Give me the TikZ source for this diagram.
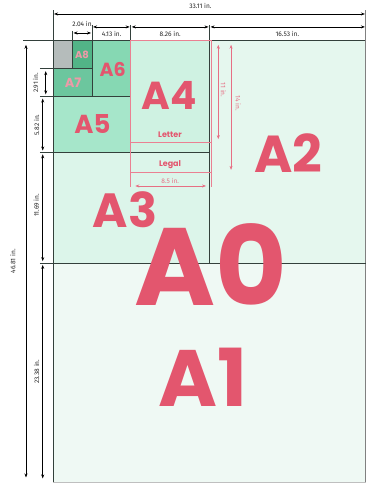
\documentclass[tikz,border=0pt]{standalone}
\usepackage{fontspec}
\usepackage{xcolor}
\usetikzlibrary{arrows.meta}
\newfontfamily\sizefont{Poppins}
\newfontfamily\dimfont{Fira Sans}
\definecolor{paperA1}{HTML}{EFF9F4}
\definecolor{paperA2}{HTML}{E5F7EE}
\definecolor{paperA3}{HTML}{DCF5EA}
\definecolor{paperA4}{HTML}{CFF2E2}
\definecolor{paperA5}{HTML}{A6E6CA}
\definecolor{paperA6}{HTML}{86D8B3}
\definecolor{paperA7}{HTML}{6CC69E}
\definecolor{paperA8}{HTML}{52B487}
\definecolor{paperrest}{HTML}{B5BCBB}
\definecolor{sizepink}{HTML}{E3566E}
\definecolor{gridline}{HTML}{33403B}

\begin{document}
\begin{tikzpicture}[x=9.45pt,y=9.45pt,
    grid/.style={draw=gridline,line width=0.9pt},
    dimline/.style={{Stealth[length=4pt,width=3pt]}-{Stealth[length=4pt,width=3pt]},line width=0.6pt,shorten <=1pt,shorten >=1pt},
    pinkdim/.style={dimline,draw=sizepink!85,{Stealth[length=4pt,width=3pt]}-{Stealth[length=4pt,width=3pt]}},
    letterbox/.style={draw=sizepink!75,line width=0.7pt},
    dimtext/.style={font=\dimfont\fontsize{6.6}{7}\selectfont,inner sep=0pt,text=black!85},
    sizelabel/.style={text=sizepink,inner sep=0pt,font=\sizefont\bfseries\fontsize{#1}{#1}\selectfont}]
    \useasboundingbox (-5.61,4.23) rectangle (33.23,-47.09);
    % sheets, biggest first
    \fill[paperA1] (0,0) rectangle (33.11,-46.81);
    \fill[paperA2] (16.56,0) rectangle (33.11,-23.6);
    \fill[paperA3] (0,-11.9) rectangle (16.56,-23.6);
    \fill[paperA4] (8.22,0) rectangle (16.56,-11.9);
    \fill[paperA5] (0,-6) rectangle (8.22,-11.9);
    \fill[paperA6] (4.13,0) rectangle (8.22,-6);
    \fill[paperA7] (0,-3.05) rectangle (4.13,-6);
    \fill[paperA8] (2.06,0) rectangle (4.13,-3.05);
    \fill[paperrest] (0,0) rectangle (2.06,-3.05);
    % cut lines
    \draw[grid] (-3.17,0) -- (33.11,0);
    \draw[grid] (0,3.17) -- (0,-46.81);
    \draw[grid,draw=gray] (33.11,3.17) -- (33.11,-46.81);
    \draw[grid,draw=gray!50] (0,-46.81) -- (33.11,-46.81);
    \draw[grid] (-1.38,-23.6) -- (33.11,-23.6);
    \draw[grid] (-1.38,-11.9) -- (16.56,-11.9);
    \draw[grid] (-1.38,-6) -- (8.22,-6);
    \draw[grid] (-1.38,-3.05) -- (4.13,-3.05);
    \draw[grid] (16.56,1.6) -- (16.56,-23.6);
    \draw[grid] (8.22,1.6) -- (8.22,-11.9);
    \draw[grid] (4.13,1.6) -- (4.13,-6);
    \draw[grid] (2.06,0.95) -- (2.06,-3.05);
    % letter and legal
    \draw[letterbox] (8.22,0) rectangle (16.72,-10.87);
    \draw[letterbox] (8.22,0) rectangle (16.72,-14.04);
    \draw[letterbox] (8.22,-14.04) -- (8.22,-15.6);
    \draw[letterbox] (16.72,-14.04) -- (16.72,-15.6);
    % widths
    \coordinate (w0) at (0,2.75);     \coordinate (w1) at (33.11,2.75);
    \coordinate (wa6a) at (4.13,1.38); \coordinate (wa6b) at (8.22,1.38);
    \coordinate (wa4a) at (8.22,1.38); \coordinate (wa4b) at (16.56,1.38);
    \coordinate (wa2a) at (16.56,1.38); \coordinate (wa2b) at (33.11,1.38);
    \coordinate (wa8a) at (2.06,0.74); \coordinate (wa8b) at (4.13,0.74);
    \draw[dimline] (w0) -- (w1);
    \draw[dimline] (wa6a) -- (wa6b);
    \draw[dimline] (wa4a) -- (wa4b);
    \draw[dimline] (wa2a) -- (wa2b);
    \draw[dimline] (wa8a) -- (wa8b);
    \node[dimtext] (t3311) at (15.6,3.6) {33.11 in.};
    \node[dimtext] (t413) at (6.2,0.62) {4.13 in.};
    \node[dimtext] (t826) at (12.4,0.62) {8.26 in.};
    \node[dimtext] (t1653) at (24.8,0.62) {16.53 in.};
    \node[dimtext] (t204) at (3.15,1.72) {2.04 in.};
    % heights
    \coordinate (h0) at (-2.86,-0.4);   \coordinate (h1) at (-2.86,-46.4);
    \coordinate (ha8a) at (-0.77,-3.3); \coordinate (ha8b) at (-0.77,-5.75);
    \coordinate (ha5a) at (-1.09,-6.2); \coordinate (ha5b) at (-1.09,-11.7);
    \coordinate (ha3a) at (-1.09,-12.1); \coordinate (ha3b) at (-1.09,-23.4);
    \coordinate (ha1a) at (-1.09,-23.8); \coordinate (ha1b) at (-1.09,-46.4);
    \draw[dimline] (h0) -- (h1);
    \draw[dimline,shorten <=0pt,shorten >=0pt] (ha8a) -- (ha8b);
    \draw[dimline,shorten <=0pt,shorten >=0pt] (ha5a) -- (ha5b);
    \draw[dimline,shorten <=0pt,shorten >=0pt] (ha3a) -- (ha3b);
    \draw[dimline,shorten <=0pt,shorten >=0pt] (ha1a) -- (ha1b);
    \node[dimtext,rotate=90] (t4681) at (-4.25,-23.4) {46.81 in.};
    \node[dimtext,rotate=90] (t291) at (-1.85,-4.55) {2.91 in.};
    \node[dimtext,rotate=90] (t582) at (-1.75,-8.99) {5.82 in.};
    \node[dimtext,rotate=90] (t1169) at (-1.75,-17.5) {11.69 in.};
    \node[dimtext,rotate=90] (t2338) at (-1.75,-35.1) {23.38 in.};
    % letter / legal measures
    \coordinate (l11a) at (17.49,-0.4); \coordinate (l11b) at (17.49,-10.6);
    \coordinate (l14a) at (18.84,-0.4); \coordinate (l14b) at (18.84,-13.85);
    \coordinate (l85a) at (8.6,-15.45); \coordinate (l85b) at (16.3,-15.45);
    \draw[pinkdim] (l11a) -- (l11b);
    \draw[pinkdim] (l14a) -- (l14b);
    \draw[pinkdim] (l85a) -- (l85b);
    \node[dimtext,text=sizepink!85,rotate=-90] (t11) at (18.04,-5.3) {11 in.};
    \node[dimtext,text=sizepink!85,rotate=-90] (t14) at (19.6,-6.7) {14 in.};
    \node[dimtext,text=sizepink!85] (t85) at (12.4,-14.9) {8.5 in.};
    \node[sizelabel=8] (letter) at (12.38,-10.05) {Letter};
    \node[sizelabel=8,text depth=0pt] (legal) at (12.38,-13.1) {Legal};
    % size names
    \node[sizelabel=110] (a0) at (16.72,-23.8) {A0};
    \node[sizelabel=80] (a1) at (15.87,-35.66) {A1};
    \node[sizelabel=52] (a2) at (24.87,-11.96) {A2};
    \node[sizelabel=48] (a3) at (7.62,-17.99) {A3};
    \node[sizelabel=39] (a4) at (12.28,-5.82) {A4};
    \node[sizelabel=26] (a5) at (4.18,-8.94) {A5};
    \node[sizelabel=19] (a6) at (6.3,-3.12) {A6};
    \node[sizelabel=13,text=sizepink!60] (a7) at (2.12,-4.55) {A7};
    \node[sizelabel=10,text=sizepink!60] (a8) at (3.07,-1.53) {A8};
\end{tikzpicture}
\end{document}
